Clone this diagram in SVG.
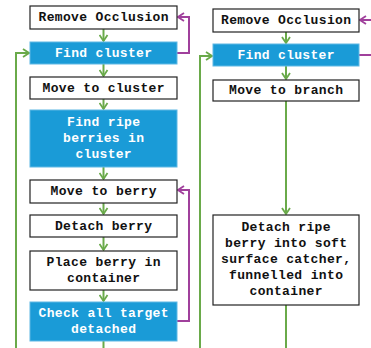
<svg xmlns="http://www.w3.org/2000/svg" width="371" height="348" viewBox="0 0 371 348">
<defs>
<marker id="ag" viewBox="0 0 10 10" refX="9" refY="5" markerWidth="10" markerHeight="10" markerUnits="userSpaceOnUse" orient="auto"><polyline points="3,1 9,5 3,9" fill="none" stroke="#6aaa4a" stroke-width="1.8"/></marker>
<marker id="ap" viewBox="0 0 10 10" refX="9" refY="5" markerWidth="10" markerHeight="10" markerUnits="userSpaceOnUse" orient="auto"><polyline points="3,1 9,5 3,9" fill="none" stroke="#a0409c" stroke-width="1.8"/></marker>
<style>
.w{fill:#fff;stroke:#222;stroke-width:1.2}
.b{fill:#1a9bd7;stroke:#5fb8e4;stroke-width:1}
.tw{fill:#111}
.tb{fill:#fff}
.g{fill:none;stroke:#6aaa4a;stroke-width:2}
.p{fill:none;stroke:#a0409c;stroke-width:2}
</style>
</defs>
<g id="connectors">
<path class="g" d="M103.5,29 V41" marker-end="url(#ag)"/>
<path class="g" d="M103.5,64 V76" marker-end="url(#ag)"/>
<path class="g" d="M103.5,99 V109" marker-end="url(#ag)"/>
<path class="g" d="M103.5,167 V179" marker-end="url(#ag)"/>
<path class="g" d="M103.5,203 V214" marker-end="url(#ag)"/>
<path class="g" d="M103.5,237 V250" marker-end="url(#ag)"/>
<path class="g" d="M103.5,290 V301" marker-end="url(#ag)"/>
<path class="g" d="M103.5,341 V348"/>
<path class="g" d="M16,348 V53 H29" marker-end="url(#ag)"/>
<path class="p" d="M177,53 H189 V17 H178" marker-end="url(#ap)"/>
<path class="p" d="M177,321 H189 V190 H178" marker-end="url(#ap)"/>
<path class="g" d="M286,32 V43" marker-end="url(#ag)"/>
<path class="g" d="M286,66 V79" marker-end="url(#ag)"/>
<path class="g" d="M286,101 V214" marker-end="url(#ag)"/>
<path class="g" d="M286,305 V348"/>
<path class="g" d="M200,348 V56 H212" marker-end="url(#ag)"/>
<path class="p" d="M371,20 H360" marker-end="url(#ap)"/>
<path class="p" d="M359,55 H371"/>
</g>
<g font-family="Courier New, Liberation Mono, DejaVu Sans Mono, monospace" font-weight="bold" font-size="13" text-anchor="middle" dominant-baseline="central" lengthAdjust="spacing">
<g id="n1"><rect class="w" x="30" y="6" width="147" height="23"/><text class="tw" x="103.5" y="17.5" textLength="130" lengthAdjust="spacing">Remove Occlusion</text></g>
<g id="n2"><rect class="b" x="30" y="42" width="147" height="22"/><text class="tb" x="103.5" y="53" textLength="97" lengthAdjust="spacing">Find cluster</text></g>
<g id="n3"><rect class="w" x="30" y="77" width="147" height="22"/><text class="tw" x="103.5" y="88" textLength="122" lengthAdjust="spacing">Move to cluster</text></g>
<g id="n4"><rect class="b" x="30" y="110" width="147" height="57"/><text class="tb" x="103.5" y="122.5" textLength="73" lengthAdjust="spacing">Find ripe</text><text class="tb" x="103.5" y="138.5" textLength="81" lengthAdjust="spacing">berries in</text><text class="tb" x="103.5" y="154.5" textLength="56" lengthAdjust="spacing">cluster</text></g>
<g id="n5"><rect class="w" x="30" y="180" width="147" height="23"/><text class="tw" x="103.5" y="191.5" textLength="106" lengthAdjust="spacing">Move to berry</text></g>
<g id="n6"><rect class="w" x="30" y="215" width="147" height="22"/><text class="tw" x="103.5" y="226" textLength="97" lengthAdjust="spacing">Detach berry</text></g>
<g id="n7"><rect class="w" x="30" y="251" width="147" height="39"/><text class="tw" x="103.5" y="262.5" textLength="114" lengthAdjust="spacing">Place berry in</text><text class="tw" x="103.5" y="278.5" textLength="73" lengthAdjust="spacing">container</text></g>
<g id="n8"><rect class="b" x="30" y="302" width="147" height="39"/><text class="tb" x="103.5" y="313.5" textLength="130" lengthAdjust="spacing">Check all target</text><text class="tb" x="103.5" y="329.5" textLength="65" lengthAdjust="spacing">detached</text></g>
<g id="r1"><rect class="w" x="213" y="9" width="146" height="23"/><text class="tw" x="286" y="20.5" textLength="130" lengthAdjust="spacing">Remove Occlusion</text></g>
<g id="r2"><rect class="b" x="213" y="44" width="146" height="22"/><text class="tb" x="286" y="55" textLength="97" lengthAdjust="spacing">Find cluster</text></g>
<g id="r3"><rect class="w" x="213" y="80" width="146" height="21"/><text class="tw" x="286" y="90.5" textLength="114" lengthAdjust="spacing">Move to branch</text></g>
<g id="r4"><rect class="w" x="213" y="215" width="146" height="90"/><text class="tw" x="286" y="227" textLength="89" lengthAdjust="spacing">Detach ripe</text><text class="tw" x="286" y="243" textLength="122" lengthAdjust="spacing">berry into soft</text><text class="tw" x="286" y="259" textLength="130" lengthAdjust="spacing">surface catcher,</text><text class="tw" x="286" y="275" textLength="114" lengthAdjust="spacing">funnelled into</text><text class="tw" x="286" y="291" textLength="73" lengthAdjust="spacing">container</text></g>
</g>
</svg>
